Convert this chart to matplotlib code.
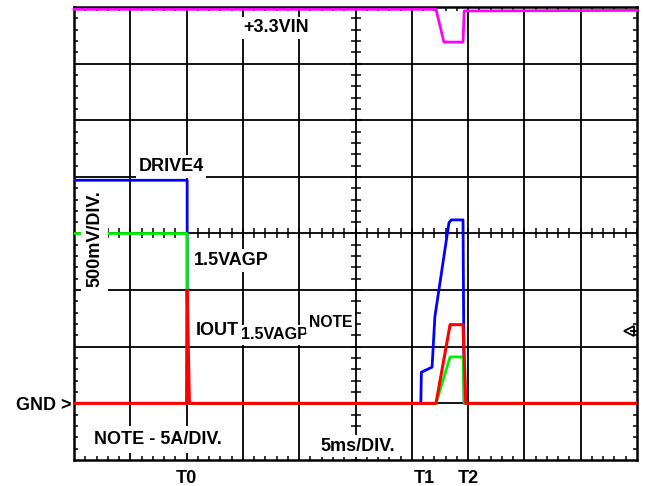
import matplotlib
matplotlib.use("Agg")
import matplotlib.pyplot as plt
import numpy as np

plt.rcParams['font.family'] = ['Liberation Sans', 'DejaVu Sans']
plt.rcParams['font.weight'] = 'bold'

# ---- data (time in ms, 5 ms/div; amplitude in screen divisions) ----
vin_t = [0.0, 32.15, 32.85, 34.55, 34.65, 50.0]
vin_y = [7.96, 7.96, 7.38, 7.38, 7.93, 7.94]

drive_t = [0.0, 10.05, 10.05, 30.8, 30.85, 31.8, 32.05, 33.3, 33.5, 34.55, 34.65, 50.0]
drive_y = [4.94, 4.94, 1.0, 1.0, 1.55, 1.64, 2.53, 4.19, 4.24, 4.24, 1.0, 1.0]

agp_t = [0.0, 10.05, 10.05, 32.15, 33.4, 34.55, 34.65, 50.0]
agp_y = [4.0, 4.0, 1.0, 1.0, 1.82, 1.82, 1.0, 1.0]

iout_t = [0.0, 10.0, 10.05, 10.25, 32.15, 33.4, 34.55, 34.8, 50.0]
iout_y = [1.0, 1.0, 3.0, 1.0, 1.0, 2.39, 2.39, 1.0, 1.0]

n_xdiv, n_ydiv = 10, 8
ms_per_div = 5.0
time_markers = ["T0", "T1", "T2"]
time_marker_pos = [10.0, 31.1, 35.0]
trig_level = 2.28

W, H = 645, 486
fig = plt.figure(figsize=(W / 100, H / 100), dpi=100)
L, R, T, B = 74, 637, 7, 460
ax = fig.add_axes([L / W, 1 - B / H, (R - L) / W, (B - T) / H])
xmax = n_xdiv * ms_per_div
ax.set_xlim(0, xmax)
ax.set_ylim(0, n_ydiv)

# graticule
for i in range(1, n_xdiv):
    ax.axvline(i * ms_per_div, color='black', lw=1.3, zorder=1)
for j in range(1, n_ydiv):
    ax.axhline(j, color='black', lw=1.3, zorder=1)
for s in ax.spines.values():
    s.set_linewidth(1.8)

ax.set_xticks(np.arange(0, xmax + 0.01, ms_per_div))
ax.set_yticks(np.arange(0, n_ydiv + 0.01, 1))
ax.set_xticks(np.arange(0, xmax + 0.01, ms_per_div / 5), minor=True)
ax.set_yticks(np.arange(0, n_ydiv + 0.01, 0.2), minor=True)
ax.tick_params(which='both', direction='in', top=True, right=True,
               labelbottom=False, labelleft=False)
ax.tick_params(which='major', length=0)
ax.tick_params(which='minor', length=3.2, width=1.1)

# ticks on centre cross
cx_t = np.arange(0, xmax + 0.01, ms_per_div / 5)
cy_t = np.arange(0, n_ydiv + 0.01, 0.2)
ax.plot(cx_t, [n_ydiv / 2] * len(cx_t), ls='none', marker='|', ms=6.5,
        mew=1.1, color='black', zorder=1)
ax.plot([xmax / 2] * len(cy_t), cy_t, ls='none', marker='_', ms=6.5,
        mew=1.1, color='black', zorder=1)

# traces
ax.plot(vin_t, vin_y, color='#ff00ff', lw=2.0, zorder=3, clip_on=False)
ax.plot(drive_t, drive_y, color='#0000ff', lw=2.0, zorder=3)
ax.plot(agp_t, agp_y, color='#00ee00', lw=2.0, zorder=4)
ax.plot(iout_t, iout_y, color='#ff0000', lw=2.2, zorder=5)

# trigger marker
ax.plot([xmax * 0.985], [trig_level], marker='<', ms=7, mfc='white',
        mec='black', mew=1.3, zorder=6)
ax.plot([xmax * 0.99, xmax], [trig_level, trig_level], color='black', lw=1.3, zorder=6)


def px(x, y):
    return ((x - L) / (R - L) * xmax, (B - y) / (B - T) * n_ydiv)


fs = 13
box = dict(facecolor='white', edgecolor='none', pad=2.0)


def label(text, x, y, ha='left', va='baseline', size=fs, bbox=box, rot=0):
    dx, dy = px(x, y)
    ax.text(dx, dy, text, ha=ha, va=va, fontsize=size, fontweight='bold',
            bbox=bbox, zorder=10, rotation=rot, clip_on=False)


label("+3.3VIN", 276, 32.3, ha='center')
label("DRIVE4", 171, 171, ha='center')
label("1.5VAGP", 194, 265)
label("IOUT", 196, 335)
label("1.5VAGP", 241, 339.3, size=11.6)
label("NOTE", 309, 326.7, size=11.3)
label("500mV/DIV.", 94.5, 239, ha='center', va='center', rot=90,
      bbox=dict(facecolor='white', edgecolor='none', pad=3.5))
label("NOTE - 5A/DIV.", 94, 444.3, bbox=dict(facecolor='white', edgecolor='none', pad=3.5))
label("5ms/DIV.", 320.5, 450.7)
label("GND >", 72, 410, ha='right', bbox=None)
for name, tpos in zip(time_markers, time_marker_pos):
    ax.text(tpos, px(0, 483.3)[1], name, ha='center', va='baseline',
            fontsize=fs, fontweight='bold', clip_on=False)

fig.savefig("out.png", dpi=100, facecolor='white')
